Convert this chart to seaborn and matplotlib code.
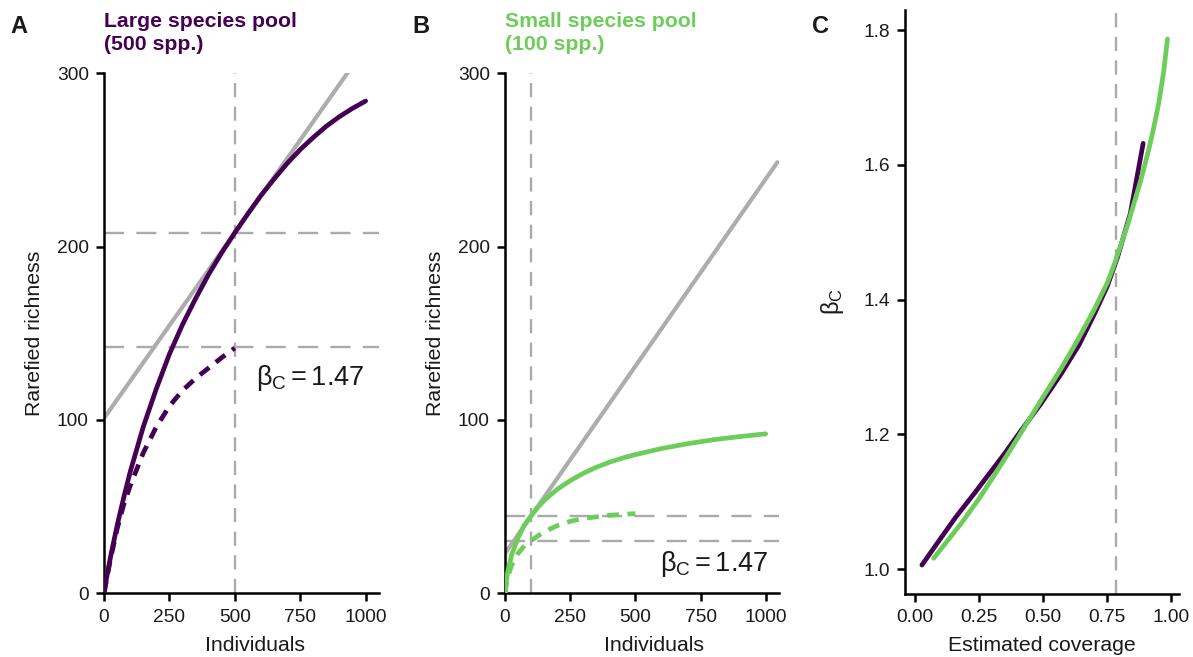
import numpy as np
import pandas as pd
import matplotlib
matplotlib.use("Agg")
import matplotlib.pyplot as plt
import seaborn as sns

# ---------------- data ----------------
# Panel A: large species pool (500 spp.)
n_A_gamma = [0, 10, 25, 50, 75, 100, 150, 200, 250, 300, 350, 400, 450, 500, 550, 600, 650, 700,
             750, 800, 850, 900, 950, 1000]
S_A_gamma = [0, 9, 21, 39, 55, 70, 96, 118, 138, 155, 170, 184, 196.5, 208, 219, 229.5, 239, 248,
             256, 263, 269.5, 275, 279.8, 284]
n_A_alpha = [0, 10, 25, 50, 75, 100, 150, 200, 250, 300, 350, 400, 450, 500]
S_A_alpha = [0, 8, 20, 37, 51, 62, 81, 96, 108, 117, 124, 130, 136, 141.5]
tangent_A_x = [0, 1050]
tangent_A_y = [101, 325.7]
ref_n_A, ref_gamma_A, ref_alpha_A = 500, 208, 142

# Panel B: small species pool (100 spp.)
n_B_gamma = [0, 5, 10, 25, 50, 75, 100, 125, 150, 200, 250, 300, 350, 400, 450, 500, 600, 700, 800, 900, 1000]
S_B_gamma = [0, 7, 12, 22, 32, 39.5, 44.6, 49.5, 53.5, 60, 65, 69.2, 72.7, 75.6, 78, 80, 83.5, 86.3, 88.6, 90.4, 92]
n_B_alpha = [0, 5, 10, 25, 50, 75, 100, 150, 200, 250, 300, 400, 500]
S_B_alpha = [0, 5, 9, 16, 23, 27.5, 30.4, 35.5, 39, 41.5, 43.2, 45, 46]
tangent_B_x = [0, 1045]
tangent_B_y = [23, 248.7]
ref_n_B, ref_gamma_B, ref_alpha_B = 100, 44.6, 30.4

# Panel C: beta_C vs estimated coverage
cov_large = [0.026, 0.10, 0.16, 0.23, 0.29, 0.35, 0.41, 0.49, 0.57, 0.64, 0.70, 0.75, 0.79, 0.84, 0.89]
beta_large = [1.006, 1.046, 1.078, 1.112, 1.142, 1.172, 1.204, 1.245, 1.290, 1.333, 1.379, 1.420, 1.463, 1.528, 1.632]
cov_small = [0.072, 0.13, 0.18, 0.25, 0.31, 0.38, 0.44, 0.50, 0.57, 0.63, 0.70, 0.75, 0.78,
             0.83, 0.88, 0.91, 0.93, 0.95, 0.97, 0.985]
beta_small = [1.016, 1.044, 1.068, 1.105, 1.140, 1.182, 1.219, 1.256, 1.298, 1.337, 1.386, 1.425, 1.455,
              1.512, 1.576, 1.620, 1.653, 1.690, 1.738, 1.787]
ref_coverage = 0.785

beta_text = "1.47"
title_A = ["Large species pool", "(500 spp.)"]
title_B = ["Small species pool", "(100 spp.)"]

# ---------------- style ----------------
PURPLE = "#440154"
GREEN = "#6DCD59"
GREY_LINE = "#ADADAD"
GREY_DASH = "#AAAAAA"
TXT = "#1a1a1a"

sns.set_theme(style="ticks")
plt.rcParams["font.family"] = ["Liberation Sans", "DejaVu Sans"]
plt.rcParams["mathtext.fontset"] = "custom"
plt.rcParams["mathtext.rm"] = "Liberation Sans"
plt.rcParams["mathtext.it"] = "Liberation Sans"
plt.rcParams["mathtext.bf"] = "Liberation Sans:bold"

W, H = 1193, 657
fig = plt.figure(figsize=(W / 100, H / 100), dpi=100)


def px_axes(left, right, top, bottom):
    return fig.add_axes([left / W, 1 - bottom / H, (right - left) / W, (bottom - top) / H])


axA = px_axes(104, 378.7, 73.3, 593.3)
axB = px_axes(505, 778.7, 73.3, 593.3)
axC = px_axes(905, 1179, 10, 594)

SPINE_LW = 1.8
LW = 3.4
TICK_FS = 13.8
LABEL_FS = 15.3
hdash = (0, (8.5, 5.2))
vdash = (0, (6.0, 4.0))


def style_axis(ax):
    for s in ["top", "right"]:
        ax.spines[s].set_visible(False)
    for s in ["left", "bottom"]:
        ax.spines[s].set_linewidth(SPINE_LW)
        ax.spines[s].set_color("black")
    ax.tick_params(axis="both", length=6, width=SPINE_LW, color="black",
                   labelsize=TICK_FS, labelcolor=TXT, pad=5)


# ---- Panel A ----
ax = axA
ax.axhline(ref_gamma_A, color=GREY_DASH, lw=1.7, ls=hdash, zorder=1)
ax.axhline(ref_alpha_A, color=GREY_DASH, lw=1.7, ls=hdash, zorder=1)
ax.axvline(ref_n_A, color=GREY_DASH, lw=1.7, ls=vdash, zorder=1)
sns.lineplot(x=tangent_A_x, y=tangent_A_y, ax=ax, color=GREY_LINE, lw=3.0, zorder=2)
sns.lineplot(x=n_A_gamma, y=S_A_gamma, ax=ax, color=PURPLE, lw=LW, zorder=3)
sns.lineplot(x=n_A_alpha, y=S_A_alpha, ax=ax, color=PURPLE, lw=LW, zorder=3,
             linestyle=(0, (2.5, 1.8)))
ax.set_xlim(0, 1050)
ax.set_ylim(0, 300)
ax.set_xticks([0, 250, 500, 750, 1000])
ax.set_yticks([0, 100, 200, 300])
ax.set_xlabel("Individuals", fontsize=LABEL_FS, color=TXT)
ax.set_ylabel("Rarefied richness", fontsize=LABEL_FS, color=TXT, labelpad=9)
ax.xaxis.set_label_coords(0.55, -0.082)
ax.text(580, 124, r"$\beta_{\mathrm{C}} = $" + beta_text, fontsize=19.5, ha="left", va="center",
        color=TXT)
style_axis(ax)

# ---- Panel B ----
ax = axB
ax.axhline(ref_gamma_B, color=GREY_DASH, lw=1.7, ls=hdash, zorder=1)
ax.axhline(ref_alpha_B, color=GREY_DASH, lw=1.7, ls=hdash, zorder=1)
ax.axvline(ref_n_B, color=GREY_DASH, lw=1.7, ls=vdash, zorder=1)
sns.lineplot(x=tangent_B_x, y=tangent_B_y, ax=ax, color=GREY_LINE, lw=3.0, zorder=2)
sns.lineplot(x=n_B_gamma, y=S_B_gamma, ax=ax, color=GREEN, lw=LW, zorder=3)
sns.lineplot(x=n_B_alpha, y=S_B_alpha, ax=ax, color=GREEN, lw=LW, zorder=3,
             linestyle=(0, (2.5, 1.8)))
ax.set_xlim(0, 1050)
ax.set_ylim(0, 300)
ax.set_xticks([0, 250, 500, 750, 1000])
ax.set_yticks([0, 100, 200, 300])
ax.set_xlabel("Individuals", fontsize=LABEL_FS, color=TXT)
ax.set_ylabel("Rarefied richness", fontsize=LABEL_FS, color=TXT, labelpad=9)
ax.xaxis.set_label_coords(0.545, -0.082)
ax.text(1010, 17, r"$\beta_{\mathrm{C}} = $" + beta_text, fontsize=19.5, ha="right", va="center",
        color=TXT)
style_axis(ax)

# ---- Panel C ----
ax = axC
ax.axvline(ref_coverage, color=GREY_DASH, lw=1.7, ls=vdash, zorder=1)
sns.lineplot(x=cov_large, y=beta_large, ax=ax, color=PURPLE, lw=LW, zorder=2)
sns.lineplot(x=cov_small, y=beta_small, ax=ax, color=GREEN, lw=LW, zorder=3)
ax.set_xlim(-0.04, 1.03)
ax.set_ylim(0.963, 1.83)
ax.set_xticks([0, 0.25, 0.5, 0.75, 1.0])
ax.set_xticklabels(["0.00", "0.25", "0.50", "0.75", "1.00"])
ax.set_yticks([1.0, 1.2, 1.4, 1.6, 1.8])
ax.set_yticklabels(["1.0", "1.2", "1.4", "1.6", "1.8"])
ax.set_xlabel("Estimated coverage", fontsize=LABEL_FS, color=TXT)
ax.xaxis.set_label_coords(0.5, -0.072)
ax.set_ylabel(r"$\beta_{\mathrm{C}}$", fontsize=17, color=TXT, labelpad=12)
style_axis(ax)

# ---- panel letters & titles ----
fig.text(10 / W, 1 - 33 / H, "A", fontsize=17, fontweight="bold", ha="left", va="baseline", color=TXT)
fig.text(412 / W, 1 - 33 / H, "B", fontsize=17, fontweight="bold", ha="left", va="baseline", color=TXT)
fig.text(812 / W, 1 - 33 / H, "C", fontsize=17, fontweight="bold", ha="left", va="baseline", color=TXT)
for (x0, lines, col) in [(104, title_A, PURPLE), (505, title_B, GREEN)]:
    fig.text(x0 / W, 1 - 27 / H, lines[0], fontsize=15.3, fontweight="bold", color=col,
             ha="left", va="baseline")
    fig.text(x0 / W, 1 - 50.5 / H, lines[1], fontsize=15.3, fontweight="bold", color=col,
             ha="left", va="baseline")

fig.savefig("out.png", dpi=100)
